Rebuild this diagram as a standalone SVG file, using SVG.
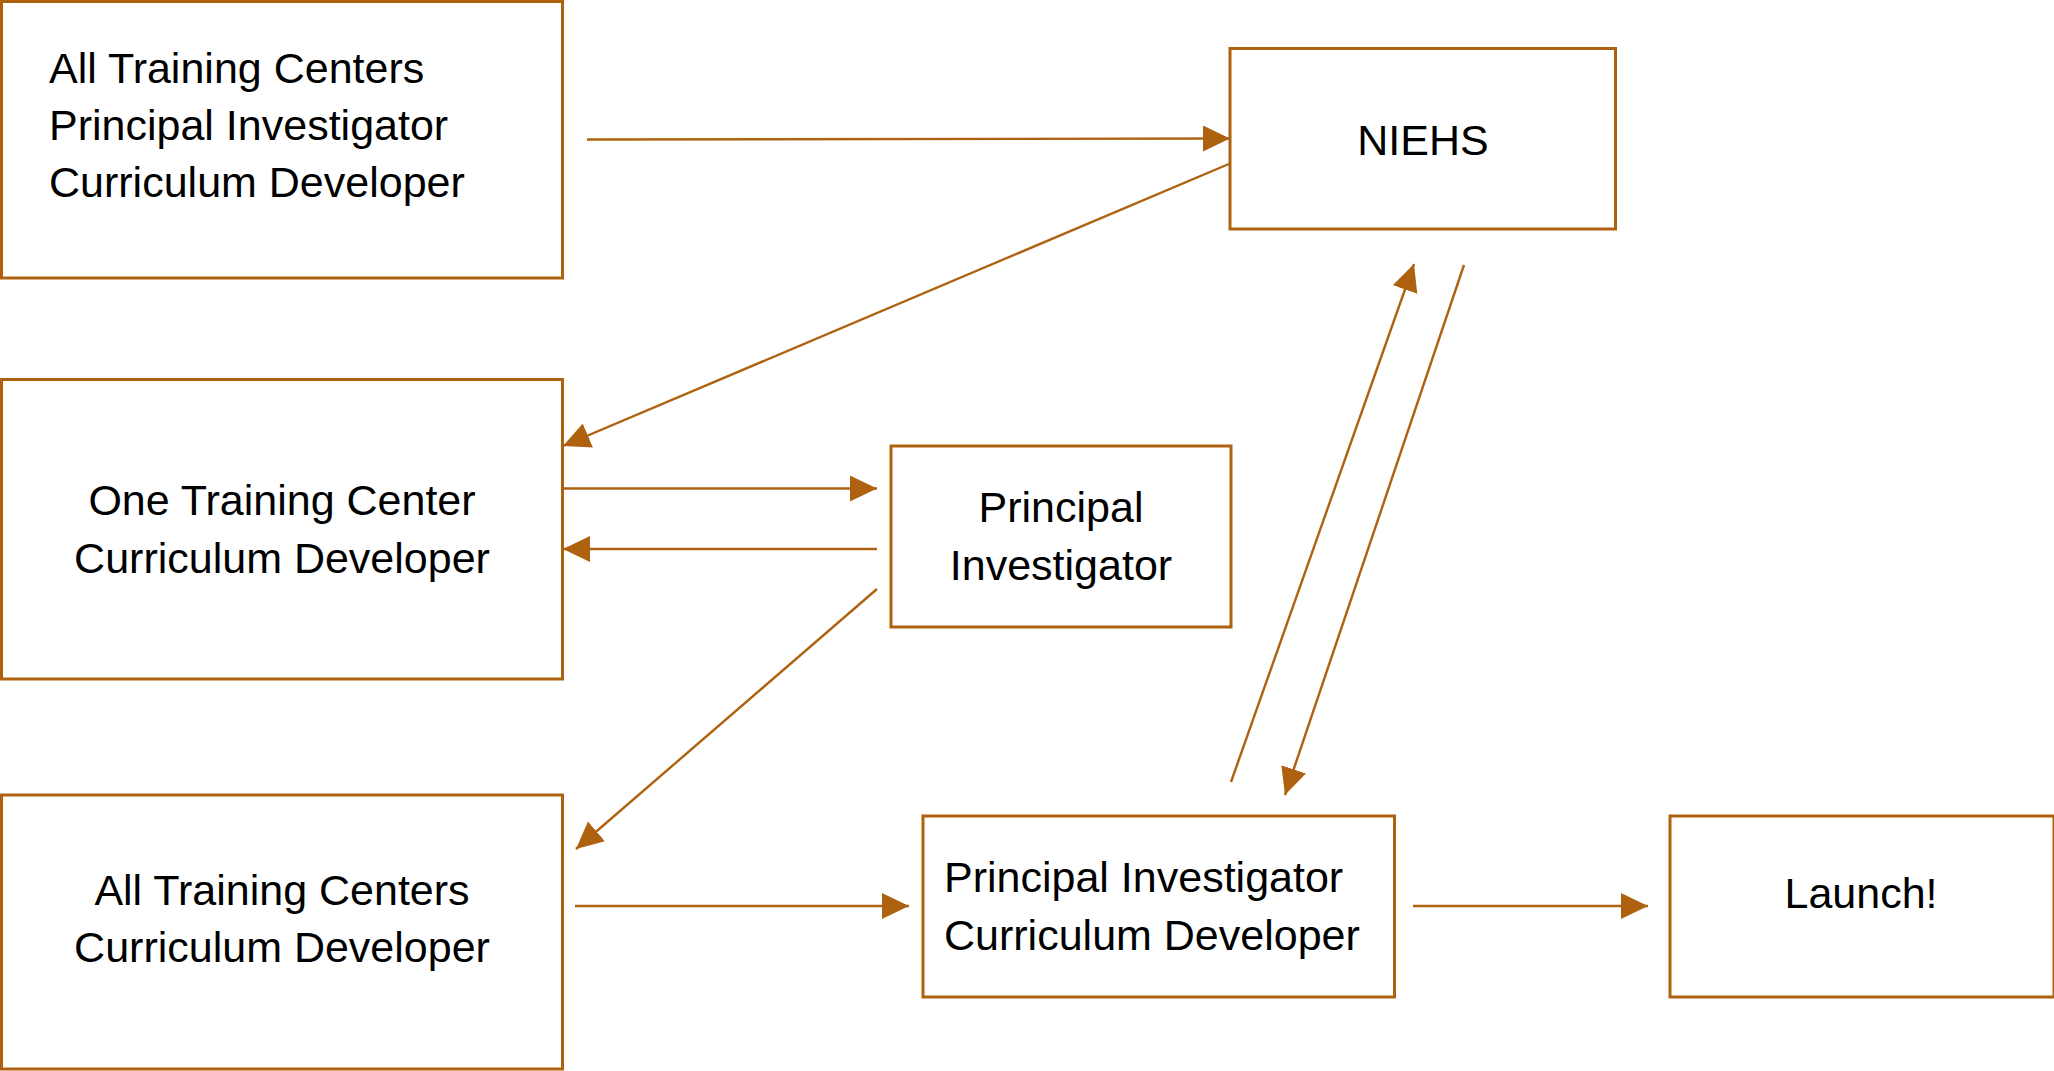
<svg xmlns="http://www.w3.org/2000/svg" width="2054" height="1071" viewBox="0 0 2054 1071">
<style>
.box{fill:#fff;stroke:#AE6210;stroke-width:3}
.ln{fill:none;stroke:#AE6210;stroke-width:2.4}
.t{font-family:"Liberation Sans",Arial,sans-serif;font-size:43px;fill:#000}
.c{text-anchor:middle}
</style>
<defs>
<marker id="ah" markerUnits="userSpaceOnUse" markerWidth="29" markerHeight="28" refX="27" refY="13" orient="auto">
<path d="M0,0 L27,13 L0,26 z" fill="#AE6210"/>
</marker>
</defs>
<rect width="2054" height="1071" fill="#fff"/>
<g id="n1"><rect class="box" x="1.5" y="1.5" width="561" height="276.5"/>
<text class="t" x="49" y="83">All Training Centers</text>
<text class="t" x="49" y="140">Principal Investigator</text>
<text class="t" x="49" y="197">Curriculum Developer</text></g>
<g id="n2"><rect class="box" x="1230" y="48.5" width="385.5" height="180.5"/>
<text class="t c" x="1423" y="155">NIEHS</text></g>
<g id="n3"><rect class="box" x="1.5" y="379.5" width="561" height="299.5"/>
<text class="t c" x="282" y="515">One Training Center</text>
<text class="t c" x="282" y="573">Curriculum Developer</text></g>
<g id="n4"><rect class="box" x="891" y="446" width="340" height="181"/>
<text class="t c" x="1061" y="522">Principal</text>
<text class="t c" x="1061" y="580">Investigator</text></g>
<g id="n5"><rect class="box" x="1.5" y="795" width="561" height="274"/>
<text class="t c" x="282" y="905">All Training Centers</text>
<text class="t c" x="282" y="962">Curriculum Developer</text></g>
<g id="n6"><rect class="box" x="923" y="816" width="471.5" height="181"/>
<text class="t" x="944" y="892">Principal Investigator</text>
<text class="t" x="944" y="950">Curriculum Developer</text></g>
<g id="n7"><rect class="box" x="1670" y="816" width="384" height="181"/>
<text class="t c" x="1861" y="908">Launch!</text></g>
<g id="connectors">
<line class="ln" x1="587" y1="139.5" x2="1230" y2="138.5" marker-end="url(#ah)"/>
<line class="ln" x1="1230" y1="163.5" x2="563" y2="446" marker-end="url(#ah)"/>
<line class="ln" x1="562" y1="488.5" x2="877" y2="488.5" marker-end="url(#ah)"/>
<line class="ln" x1="877" y1="549" x2="563" y2="549" marker-end="url(#ah)"/>
<line class="ln" x1="877" y1="589" x2="576" y2="849" marker-end="url(#ah)"/>
<line class="ln" x1="575" y1="906" x2="909" y2="906" marker-end="url(#ah)"/>
<line class="ln" x1="1413" y1="906" x2="1648" y2="906" marker-end="url(#ah)"/>
<line class="ln" x1="1231" y1="782" x2="1414" y2="264" marker-end="url(#ah)"/>
<line class="ln" x1="1464" y1="265" x2="1285" y2="795" marker-end="url(#ah)"/>
</g>
</svg>
